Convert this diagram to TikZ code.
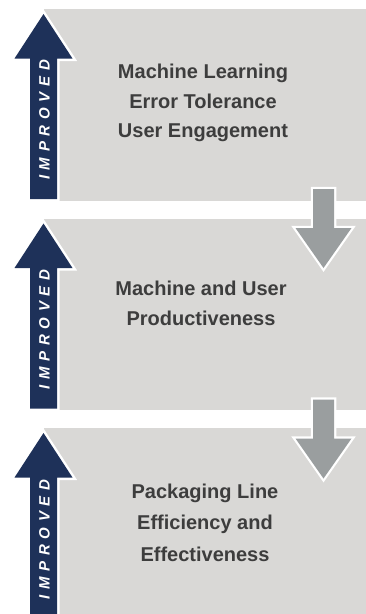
\documentclass[tikz,border=0pt]{standalone}
\usepackage{fontspec}
\setmainfont{Liberation Sans}
\newfontfamily\impfont[LetterSpace=38]{Liberation Sans}
\definecolor{navy}{HTML}{1E3159}
\definecolor{boxgray}{HTML}{D9D8D6}
\definecolor{downgray}{HTML}{9A9E9F}
\definecolor{textgray}{HTML}{3D3D3D}
\tikzset{
  stagebox/.style={fill=boxgray},
  upborder/.style={draw=white, line width=5pt},
  upfill/.style={fill=navy},
  downborder/.style={draw=white, line width=4.5pt},
  downfill/.style={fill=downgray},
  maintext/.style={text=textgray, align=center, inner sep=0pt},
  imptext/.style={text=white, inner sep=0pt, rotate=90,
    font=\impfont\fontsize{15}{18}\selectfont\bfseries\itshape}
}
\begin{document}
\begin{tikzpicture}[x=1pt,y=-1pt]
\useasboundingbox (0,0) rectangle (365,614);
% stage boxes
\foreach \o in {0,209.5,419}{
  \path[stagebox] (44,9+\o) rectangle (366,200.5+\o);
}
% up arrows
\foreach \o in {0,209.5,419}{
  \path[upborder] (43.5,14+\o) -- (72.5,58.5+\o) -- (57,58.5+\o) -- (57,199+\o)
     -- (30,199+\o) -- (30,58.5+\o) -- (14.5,58.5+\o) -- cycle;
  \path[upfill] (43.5,14+\o) -- (72.5,58.5+\o) -- (57,58.5+\o) -- (57,199+\o)
     -- (30,199+\o) -- (30,58.5+\o) -- (14.5,58.5+\o) -- cycle;
}
% down arrows
\foreach \o in {0,210.5}{
  \path[downborder] (313,189+\o) -- (334,189+\o) -- (334,228+\o) -- (351.5,228+\o)
     -- (323.5,268+\o) -- (295.5,228+\o) -- (313,228+\o) -- cycle;
  \path[downfill] (313,189+\o) -- (334,189+\o) -- (334,228+\o) -- (351.5,228+\o)
     -- (323.5,268+\o) -- (295.5,228+\o) -- (313,228+\o) -- cycle;
}
% IMPROVED labels
\node[imptext] (imp1) at (44.5,120) {IMPROVED};
\node[imptext] (imp2) at (44.5,329.5) {IMPROVED};
\node[imptext] (imp3) at (44.5,539.5) {IMPROVED};
% main texts
\node[maintext, font=\fontsize{20}{29.5}\selectfont\bfseries] (t1) at (203,103.3)
  {Machine Learning\\Error Tolerance\\User Engagement};
\node[maintext, font=\fontsize{20}{30}\selectfont\bfseries] (t2) at (201,302.9)
  {Machine and User\\Productiveness};
\node[maintext, font=\fontsize{20}{31.5}\selectfont\bfseries] (t3) at (205,522.4)
  {Packaging Line\\Efficiency and\\Effectiveness};
\end{tikzpicture}
\end{document}
